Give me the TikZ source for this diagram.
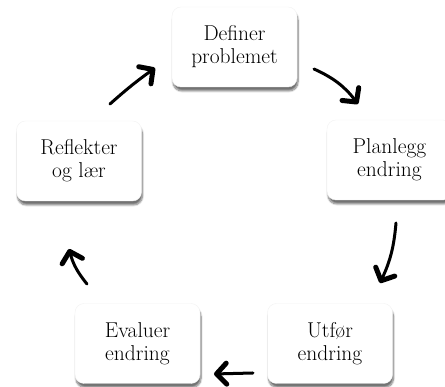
\documentclass[tikz,border=0pt]{standalone}
\usepackage{fontspec}
\usepackage{tikz}
\usetikzlibrary{arrows.meta,shadows.blur}

\begin{document}
\begin{tikzpicture}[x=1pt,y=1pt,
  stage/.style={draw=gray!10,fill=white,rounded corners=9pt,minimum width=125pt,minimum height=80pt,
    align=center,font=\fontsize{21.5}{23}\selectfont,
    blur shadow={shadow xshift=1pt,shadow yshift=-4pt,shadow blur steps=8,shadow opacity=55}},
  hand/.style={line width=3pt,line cap=round,-{Straight Barb[length=10pt,width=21pt,line width=5pt,round]}}]
\useasboundingbox (0,0) rectangle (445,387);
% the five stages
\node[stage] (def) at (234.5,340) {Definer\\problemet};
\node[stage] (plan) at (389.5,227) {Planlegg\\endring};
\node[stage] (utf) at (330,43.5) {Utf\o r\\endring};
\node[stage] (eval) at (137.5,43.5) {Evaluer\\endring};
\node[stage] (refl) at (79,226) {Reflekter\\og l\ae r};
% hand drawn arrows between them
\coordinate (a1s) at (314,318); \coordinate (a1e) at (358,283);
\coordinate (a2s) at (396,164); \coordinate (a2e) at (380,104);
\coordinate (a3s) at (253,14);  \coordinate (a3e) at (214,13);
\coordinate (a4s) at (87,103);  \coordinate (a4e) at (69,138);
\coordinate (a5s) at (110,283); \coordinate (a5e) at (155,319);
\draw[hand] (a1s) to[bend left=14] (a1e);
\draw[hand] (a2s) to[bend left=10] (a2e);
\draw[hand] (a3s) -- (a3e);
\draw[hand] (a4s) to[bend left=12] (a4e);
\draw[hand] (a5s) to[bend left=3] (a5e);
\end{tikzpicture}
\end{document}
